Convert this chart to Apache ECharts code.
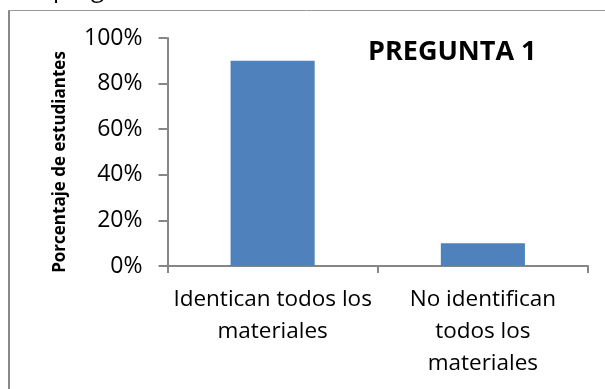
<!DOCTYPE html>
<html>
<head>
<meta charset="utf-8">
<script src="https://cdn.jsdelivr.net/npm/echarts@6/dist/echarts.min.js"></script>
<style>
  html, body { margin: 0; padding: 0; background: #fff; }
  #chart { width: 605px; height: 389px; }
</style>
</head>
<body>
<div id="chart"></div>
<script>
// Question 1 results: share of students per answer
const categories = ['Identican todos los\nmateriales', 'No identifican\ntodos los\nmateriales'];
const values = [0.90, 0.10];
const yTicks = [0, 0.2, 0.4, 0.6, 0.8, 1.0];

const FONT = '"Open Sans"';
const AXIS_GREY = '#868686';

const chart = echarts.init(document.getElementById('chart'), null, { renderer: 'canvas' });

chart.setOption({
  animation: false,
  backgroundColor: '#ffffff',
  textStyle: { fontFamily: FONT },
  title: {
    text: 'PREGUNTA 1',
    left: 363,
    top: 34,
    textStyle: { fontFamily: FONT, fontWeight: 'bold', fontSize: 27, color: '#000' }
  },
  grid: { left: 167.5, right: 17, top: 38, bottom: 123 },
  xAxis: {
    type: 'category',
    data: categories,
    axisLine: { lineStyle: { color: AXIS_GREY, width: 2 } },
    axisTick: { show: true, length: 7, lineStyle: { color: AXIS_GREY, width: 2 } },
    axisLabel: { color: '#000', fontSize: 22.5, lineHeight: 32, margin: 18, interval: 0, fontFamily: FONT }
  },
  yAxis: {
    type: 'value',
    min: yTicks[0],
    max: yTicks[yTicks.length - 1],
    interval: 0.2,
    name: 'Porcentaje de estudiantes',
    nameLocation: 'middle',
    nameGap: 99,
    nameTextStyle: { fontFamily: FONT, fontWeight: 'bold', fontSize: 17, color: '#000', padding: [0, 20, 0, 0] },
    axisLine: { show: true, lineStyle: { color: AXIS_GREY, width: 2 } },
    axisTick: { show: true, length: 9, lineStyle: { color: AXIS_GREY, width: 2 } },
    splitLine: { show: false },
    axisLabel: {
      color: '#000', fontSize: 23, margin: 25, fontFamily: FONT,
      formatter: v => Math.round(v * 100) + '%'
    }
  },
  series: [{
    type: 'bar',
    data: values,
    barWidth: '40%',
    itemStyle: { color: '#4F81BD' }
  }],
  graphic: [
    // frame of the chart area (left and top edges)
    { type: 'line', shape: { x1: 9, y1: 10, x2: 9, y2: 389 }, style: { stroke: '#888', lineWidth: 2 }, silent: true },
    { type: 'line', shape: { x1: 8, y1: 10.5, x2: 605, y2: 10.5 }, style: { stroke: '#999', lineWidth: 1 }, silent: true },
    // tail of the preceding line of text
    { type: 'text', left: 53, top: -22, style: { text: 'pregunta', font: '24px ' + FONT, fill: '#000' }, silent: true }
  ]
});
</script>
</body>
</html>
